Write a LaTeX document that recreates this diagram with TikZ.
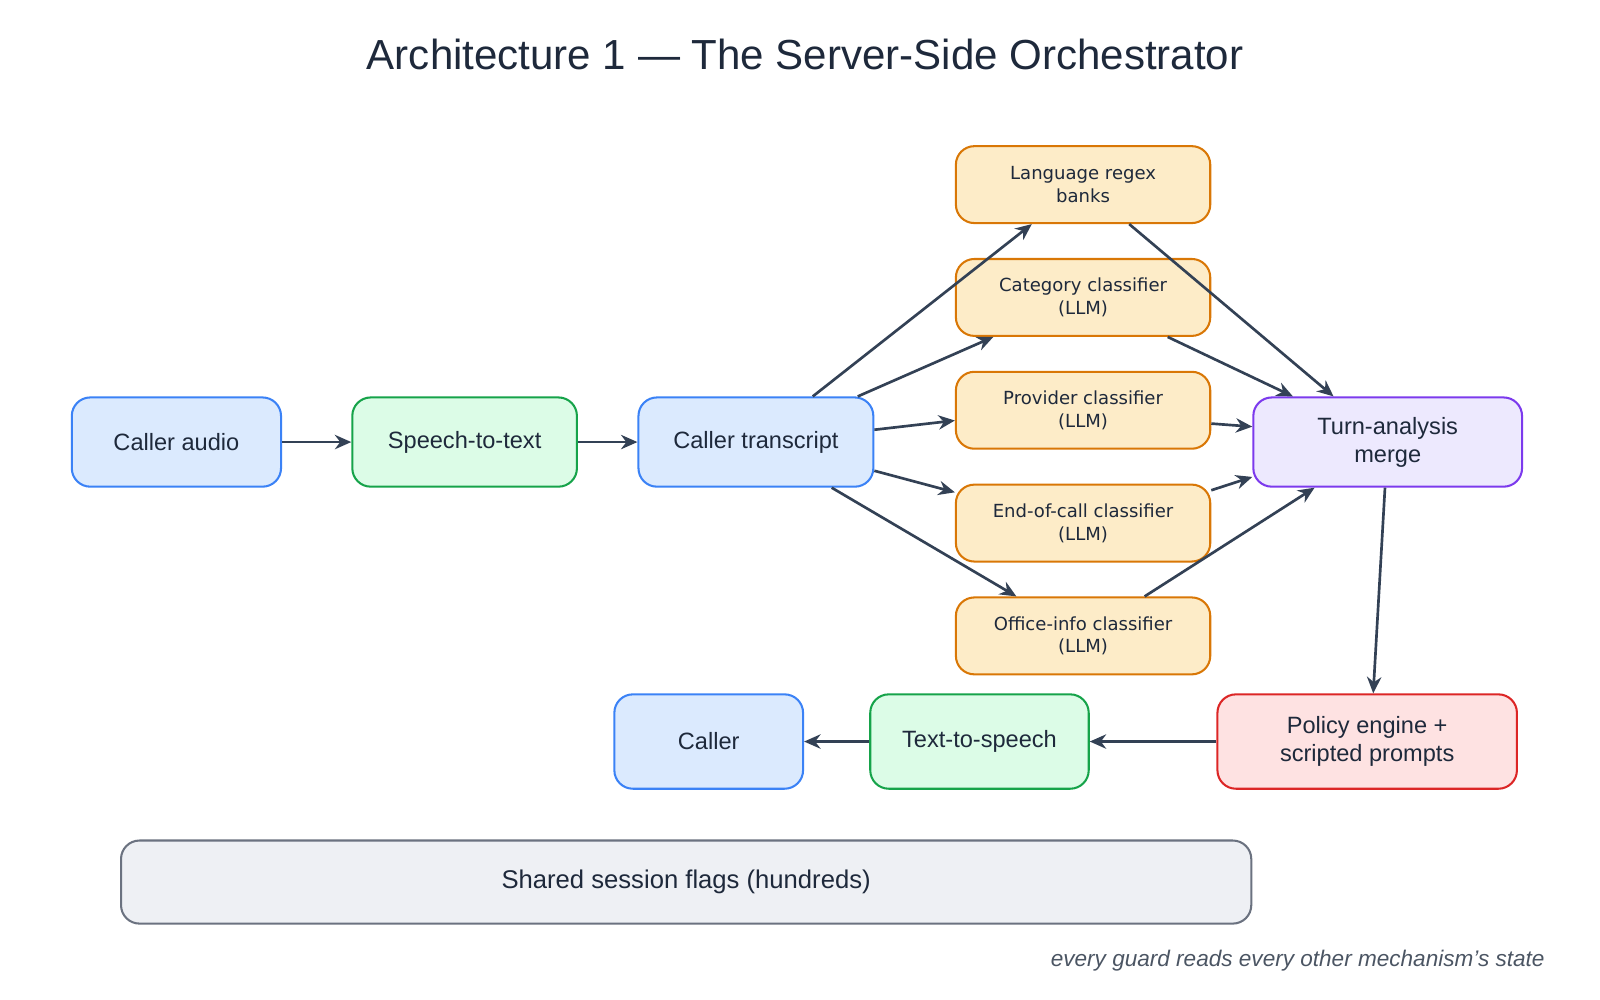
\documentclass[tikz,border=0pt]{standalone}
\usepackage{fontspec}
\setmainfont{Liberation Sans}
\newfontfamily\vfont{DejaVu Sans}
\usetikzlibrary{calc,arrows.meta}
\definecolor{bfill}{HTML}{DBEAFE}\definecolor{bdraw}{HTML}{3B82F6}
\definecolor{gfill}{HTML}{DCFCE7}\definecolor{gdraw}{HTML}{16A34A}
\definecolor{ofill}{HTML}{FDECC8}\definecolor{odraw}{HTML}{D97706}
\definecolor{pfill}{HTML}{EDE9FE}\definecolor{pdraw}{HTML}{7C3AED}
\definecolor{rfill}{HTML}{FEE2E2}\definecolor{rdraw}{HTML}{DC2626}
\definecolor{sfill}{HTML}{EEF0F4}\definecolor{sdraw}{HTML}{6B7280}
\definecolor{arr}{HTML}{334155}\definecolor{dash}{HTML}{EF4444}
\definecolor{txt}{HTML}{1E293B}\definecolor{cap}{HTML}{4B5563}
\tikzset{
 box/.style={rounded corners=9pt,line width=1pt,align=center,text=txt,font=\fontsize{11.5}{13.5}\selectfont,inner sep=0pt},
 bluebox/.style={box,fill=bfill,draw=bdraw},
 greenbox/.style={box,fill=gfill,draw=gdraw},
 orangebox/.style={box,fill=ofill,draw=odraw,minimum width=124pt,minimum height=37.5pt,font=\vfont\fontsize{8.8}{11}\selectfont},
 flow/.style={draw=arr,line width=1.3pt,-{Stealth[length=8pt,width=7pt]}},
 shared/.style={draw=dash,line width=0.5pt,dash pattern=on 4pt off 3pt},
}
\begin{document}
\begin{tikzpicture}[x=0.5pt,y=-0.5pt]
\useasboundingbox (0,0) rectangle (1560,975);
\node[font=\fontsize{20.5}{24}\selectfont,text=txt] (title) at (785,53) {Architecture 1 — The Server-Side Orchestrator};
% nodes
\node[bluebox,minimum width=102pt,minimum height=43.5pt] (ca) at (172,431) {Caller audio};
\node[greenbox,minimum width=109.5pt,minimum height=43.5pt] (stt) at (453,431) {Speech-to-text};
\node[bluebox,minimum width=114.5pt,minimum height=43.5pt] (tr) at (737,431) {Caller transcript};
\node[orangebox] (rx) at (1056,180) {Language regex\\banks};
\node[orangebox] (cat) at (1056,290) {Category classifier\\(LLM)};
\node[orangebox] (pro) at (1056,400) {Provider classifier\\(LLM)};
\node[orangebox] (eoc) at (1056,510) {End-of-call classifier\\(LLM)};
\node[orangebox] (off) at (1056,620) {Office-info classifier\\(LLM)};
\node[box,fill=pfill,draw=pdraw,minimum width=131pt,minimum height=43.5pt] (mg) at (1353,431) {Turn-analysis\\merge};
\node[box,fill=rfill,draw=rdraw,minimum width=146pt,minimum height=46pt] (pol) at (1333,723) {Policy engine +\\scripted prompts};
\node[greenbox,minimum width=106.5pt,minimum height=46pt] (tts) at (955,723) {Text-to-speech};
\node[bluebox,minimum width=92pt,minimum height=46pt] (cl) at (691,723) {Caller};
\node[box,fill=sfill,draw=sdraw,minimum width=551pt,minimum height=40.5pt,font=\fontsize{12.5}{15}\selectfont] (fl) at (669,860) {Shared session flags (hundreds)};
\node[font=\itshape\fontsize{11}{13}\selectfont,text=cap,anchor=east] (capt) at (1513,937) {every guard reads every other mechanism's state};
% dashed shared-state lines (behind nodes)
\begin{scope}[on background layer/.try]
\end{scope}
\begin{pgfinterruptboundingbox}\end{pgfinterruptboundingbox}
% flow arrows
\draw[flow] (ca) -- (stt);
\draw[flow] (stt) -- (tr);
\draw[flow] ($(tr.north west)!0.74!(tr.north east)$) -- ($(rx.south west)!0.3!(rx.south east)$);
\draw[flow] ($(tr.north west)!0.93!(tr.north east)$) -- ($(cat.south west)!0.15!(cat.south east)$);
\draw[flow] ($(tr.east)+(0,-12)$) -- ($(pro.west)+(0,10)$);
\draw[flow] ($(tr.east)+(0,28)$) -- ($(eoc.west)+(0,-30)$);
\draw[flow] ($(tr.south west)!0.82!(tr.south east)$) -- ($(off.north west)!0.24!(off.north east)$);
\draw[flow] ($(rx.south west)!0.68!(rx.south east)$) -- ($(mg.north west)!0.3!(mg.north east)$);
\draw[flow] ($(cat.south west)!0.83!(cat.south east)$) -- ($(mg.north west)!0.15!(mg.north east)$);
\draw[flow] ($(pro.east)+(0,13)$) -- ($(mg.west)+(0,-15)$);
\draw[flow] ($(eoc.east)+(0,-32)$) -- ($(mg.west)+(0,34)$);
\draw[flow] ($(off.north west)!0.74!(off.north east)$) -- ($(mg.south west)!0.23!(mg.south east)$);
\draw[flow] ($(mg.south west)!0.49!(mg.south east)$) -- ($(pol.north west)!0.52!(pol.north east)$);
\draw[flow] (pol) -- (tts);
\draw[flow] (tts) -- (cl);
\end{tikzpicture}
\end{document}
